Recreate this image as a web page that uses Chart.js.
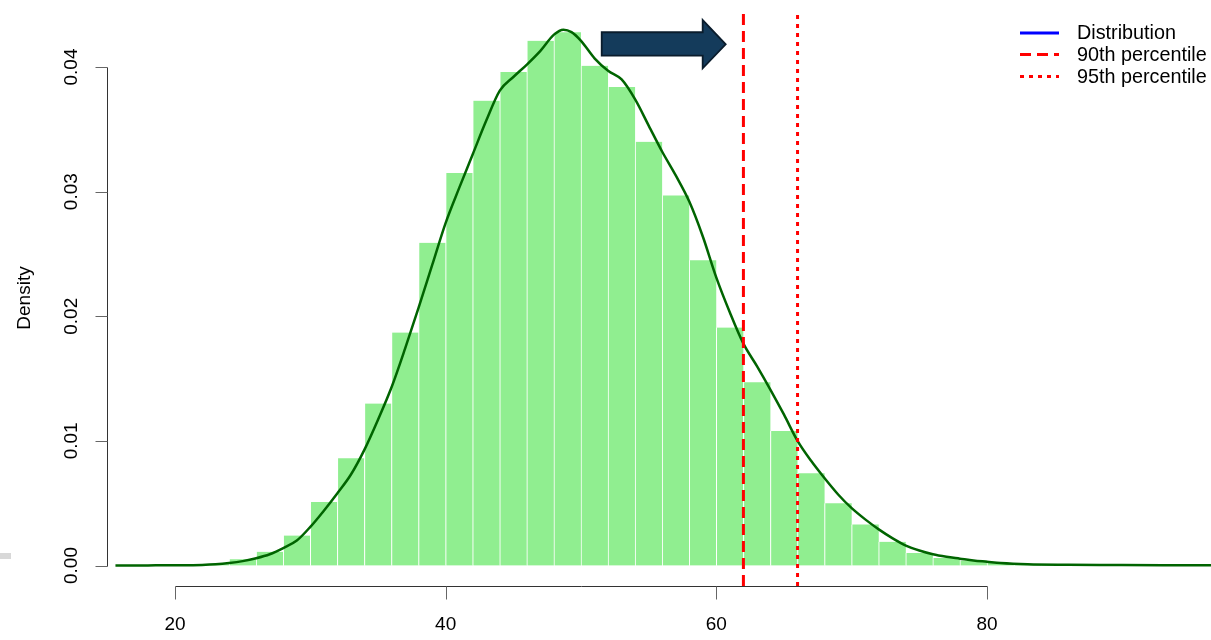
<!DOCTYPE html>
<html>
<head>
<meta charset="utf-8">
<script src="https://cdn.jsdelivr.net/npm/chart.js@4.4.1/dist/chart.umd.min.js"></script>
<style>
  html, body { margin: 0; padding: 0; background: #ffffff; }
  #wrap { width: 1211px; height: 640px; position: relative; }
</style>
</head>
<body>
<div id="wrap"><canvas id="chart" width="1211" height="640"></canvas></div>
<script>
// Histogram: lower edge of each 2-unit bin and its density
const binWidth = 2;
const binStart = [20, 22, 24, 26, 28, 30, 32, 34, 36, 38, 40, 42, 44, 46, 48, 50, 52,
                  54, 56, 58, 60, 62, 64, 66, 68, 70, 72, 74, 76, 78, 80, 82, 84, 86];
const binDensity = [0.00003, 0.0001, 0.0005, 0.0011, 0.0024, 0.0051, 0.0086, 0.0130,
                    0.0187, 0.0259, 0.0315, 0.0373, 0.0396, 0.0421, 0.0428, 0.0401,
                    0.0384, 0.0340, 0.0297, 0.0245, 0.0191, 0.0147, 0.0108, 0.0074,
                    0.0050, 0.0033, 0.0019, 0.0010, 0.0006, 0.0004, 0.0002, 0.0001,
                    0.00005, 0.00003];

// Kernel density estimate
const kdeX = [15.6, 18, 20, 22, 23, 24, 25, 26, 27, 28, 29, 30, 31, 32, 33, 34, 35, 36,
              37, 38, 39, 40, 41, 42, 43, 44, 45, 46, 47, 48, 48.7, 49.3, 50, 51, 52,
              53, 54, 55, 56, 57, 58, 59, 60, 61, 62, 63, 64, 65, 66, 67, 68, 69, 70,
              71, 72, 73, 74, 75, 76, 77, 78, 79, 80, 81, 83, 86, 89, 93, 96.6];
const kdeY = [0, 0.00001, 0.00002, 0.00005, 0.0001, 0.0002, 0.00035, 0.00058, 0.0009,
              0.0014, 0.0020, 0.0031, 0.0044, 0.0058, 0.0073, 0.0093, 0.0117, 0.0143,
              0.0174, 0.0207, 0.0241, 0.0275, 0.0303, 0.0330, 0.0357, 0.0381, 0.0392,
              0.0402, 0.0413, 0.0426, 0.0430, 0.0428, 0.0421, 0.0407, 0.0397, 0.0390,
              0.0374, 0.0353, 0.0332, 0.0313, 0.0292, 0.0264, 0.0231, 0.0203, 0.0178,
              0.0160, 0.0141, 0.0121, 0.0100, 0.0084, 0.0070, 0.0057, 0.0046, 0.0037,
              0.0029, 0.0022, 0.0016, 0.0012, 0.0009, 0.0007, 0.00055, 0.0004, 0.0003,
              0.0002, 0.0001, 0.00006, 0.00004, 0.00002, 0.00001];

// Percentile markers
const percentileNames = ['90th percentile', '95th percentile'];
const percentileValues = [62.0, 66.0];

// Axis ticks
const xTicks = [20, 40, 60, 80];
const xTickLabels = ['20', '40', '60', '80'];
const yTicks = [0, 0.01, 0.02, 0.03, 0.04];
const yTickLabels = ['0.00', '0.01', '0.02', '0.03', '0.04'];

const legendLabels = ['Distribution', percentileNames[0], percentileNames[1]];
const yTitle = 'Density';

const FONT = '"Liberation Sans", Arial, Helvetica, sans-serif';
const X_MIN = 14.975, X_MAX = 96.55;
const Y_MIN = -0.001645, Y_MAX = 0.044415;

const histData = binStart.map((s, i) => ({ x: s + binWidth / 2, y: binDensity[i] }));
const kdeData = kdeX.map((x, i) => ({ x: x, y: kdeY[i] }));
const pctDatasets = percentileValues.map((v, i) => ({
  type: 'line',
  label: percentileNames[i],
  data: [{ x: v, y: Y_MIN }, { x: v, y: Y_MAX }],
  borderColor: '#ff0000',
  borderWidth: 3,
  borderDash: i === 0 ? [11, 6] : [4, 5],
  pointRadius: 0,
  order: 1
}));

// R-style detached axes drawn from the chart's scales
const baseAxes = {
  id: 'baseAxes',
  afterDraw(chart) {
    const { ctx, chartArea, scales } = chart;
    const xs = scales.x, ys = scales.y;
    ctx.save();
    ctx.strokeStyle = '#333333';
    ctx.lineWidth = 1;
    // y axis
    const ax = Math.round(chartArea.left) + 0.5;
    const y0 = ys.getPixelForValue(yTicks[0]);
    const y1 = ys.getPixelForValue(yTicks[yTicks.length - 1]);
    ctx.beginPath();
    ctx.moveTo(ax, Math.round(y0) + 0.5);
    ctx.lineTo(ax, Math.round(y1) + 0.5);
    ctx.stroke();
    ctx.strokeStyle = '#666666';
    yTicks.forEach(v => {
      const py = Math.round(ys.getPixelForValue(v)) + 0.5;
      ctx.beginPath();
      ctx.moveTo(ax - 12, py);
      ctx.lineTo(ax, py);
      ctx.stroke();
    });
    // x axis
    ctx.strokeStyle = '#333333';
    const ay = Math.round(chartArea.bottom) + 0.5;
    const x0 = xs.getPixelForValue(xTicks[0]);
    const x1 = xs.getPixelForValue(xTicks[xTicks.length - 1]);
    ctx.beginPath();
    ctx.moveTo(Math.round(x0) + 0.5, ay);
    ctx.lineTo(Math.round(x1) + 0.5, ay);
    ctx.stroke();
    ctx.strokeStyle = '#666666';
    xTicks.forEach(v => {
      const px = Math.round(xs.getPixelForValue(v)) + 0.5;
      ctx.beginPath();
      ctx.moveTo(px, ay);
      ctx.lineTo(px, ay + 13);
      ctx.stroke();
    });
    // tick labels
    ctx.fillStyle = '#000000';
    ctx.font = '19px ' + FONT;
    ctx.textAlign = 'center';
    ctx.textBaseline = 'middle';
    xTicks.forEach((v, i) => {
      ctx.fillText(xTickLabels[i], xs.getPixelForValue(v), 625);
    });
    yTicks.forEach((v, i) => {
      ctx.save();
      ctx.translate(72, ys.getPixelForValue(v));
      ctx.rotate(-Math.PI / 2);
      ctx.fillText(yTickLabels[i], 0, 0);
      ctx.restore();
    });
    // axis title
    ctx.save();
    ctx.translate(25, (chartArea.top + chartArea.bottom) / 2 - 1);
    ctx.rotate(-Math.PI / 2);
    ctx.fillText(yTitle, 0, 0);
    ctx.restore();
    ctx.restore();
  }
};

// Block arrow pointing towards the upper tail, placed in data units
const tailArrow = {
  id: 'tailArrow',
  afterDatasetsDraw(chart, args, opts) {
    const { ctx, scales } = chart;
    const X = v => scales.x.getPixelForValue(v);
    const Y = v => scales.y.getPixelForValue(v);
    const pts = [
      [opts.start, opts.bodyTop], [opts.headBase, opts.bodyTop], [opts.headBase, opts.headTop],
      [opts.tip, opts.mid], [opts.headBase, opts.headBottom], [opts.headBase, opts.bodyBottom],
      [opts.start, opts.bodyBottom]
    ];
    ctx.save();
    ctx.beginPath();
    pts.forEach((p, i) => {
      const px = X(p[0]), py = Y(p[1]);
      if (i === 0) ctx.moveTo(px, py); else ctx.lineTo(px, py);
    });
    ctx.closePath();
    ctx.fillStyle = '#143b5b';
    ctx.fill();
    ctx.lineWidth = 1.8;
    ctx.lineJoin = 'miter';
    ctx.strokeStyle = '#0a1c2c';
    ctx.stroke();
    ctx.restore();
  }
};

// Legend without a frame in the top-right corner
const cornerLegend = {
  id: 'cornerLegend',
  afterDraw(chart) {
    const { ctx } = chart;
    const rows = [33, 54.5, 76.5];
    const styles = [
      { color: '#0000ff', dash: [] },
      { color: '#ff0000', dash: [11, 6] },
      { color: '#ff0000', dash: [4, 5] }
    ];
    ctx.save();
    ctx.font = '19.8px ' + FONT;
    ctx.textBaseline = 'middle';
    ctx.textAlign = 'left';
    legendLabels.forEach((lab, i) => {
      ctx.strokeStyle = styles[i].color;
      ctx.lineWidth = 3;
      ctx.setLineDash(styles[i].dash);
      ctx.beginPath();
      ctx.moveTo(1020, rows[i]);
      ctx.lineTo(1059, rows[i]);
      ctx.stroke();
      ctx.setLineDash([]);
      ctx.fillStyle = '#000000';
      ctx.fillText(lab, 1077, rows[i] + 1);
    });
    ctx.restore();
  }
};

// Small grey mark at the left margin
const marginMark = {
  id: 'marginMark',
  beforeDraw(chart) {
    const { ctx } = chart;
    ctx.save();
    ctx.fillStyle = '#d8d8d8';
    ctx.fillRect(0, 553, 11, 6);
    ctx.restore();
  }
};

new Chart(document.getElementById('chart'), {
  type: 'bar',
  data: {
    datasets: [
      {
        type: 'bar',
        label: 'Histogram',
        data: histData,
        backgroundColor: '#90ee90',
        borderColor: '#ffffff',
        borderWidth: { left: 1, right: 0, top: 0, bottom: 0 },
        borderSkipped: false,
        barPercentage: 1,
        categoryPercentage: 1,
        grouped: false,
        order: 3
      },
      {
        type: 'line',
        label: 'Distribution',
        data: kdeData,
        borderColor: '#006400',
        borderWidth: 2.5,
        pointRadius: 0,
        cubicInterpolationMode: 'monotone',
        fill: false,
        order: 2
      },
      ...pctDatasets
    ]
  },
  options: {
    responsive: false,
    animation: false,
    events: [],
    layout: { padding: { left: 107, right: 0, top: 12, bottom: 54 } },
    scales: {
      x: { type: 'linear', min: X_MIN, max: X_MAX, offset: false, display: false,
           grid: { offset: false } },
      y: { type: 'linear', min: Y_MIN, max: Y_MAX, display: false }
    },
    plugins: {
      legend: { display: false },
      tooltip: { enabled: false },
      tailArrow: { start: 51.53, headBase: 58.99, tip: 60.69, bodyTop: 0.04279,
                   bodyBottom: 0.04091, headTop: 0.04377, headBottom: 0.0399, mid: 0.04182 }
    }
  },
  plugins: [marginMark, tailArrow, baseAxes, cornerLegend]
});
</script>
</body>
</html>
